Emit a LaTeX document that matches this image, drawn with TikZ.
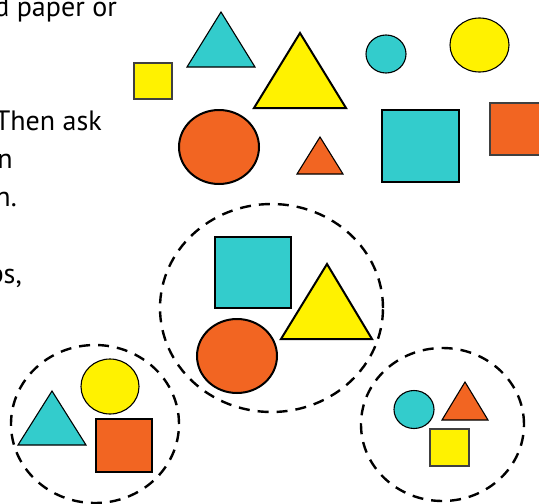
\documentclass[tikz,border=0pt]{standalone}
\usepackage{fontspec}
\setmainfont{PT Sans}
\usepackage{xcolor}
\usepackage{tikz}
\definecolor{shcyan}{HTML}{33CCCC}
\definecolor{shyellow}{HTML}{FFF200}
\definecolor{shorange}{HTML}{F26522}
\tikzset{
  shthin/.style={draw=black, line width=1.1pt, line join=miter},
  shbox/.style={draw=black!75, line width=1.2pt},
  shthick/.style={draw=black, line width=2pt, line join=miter},
  shgroup/.style={draw=black, line width=2.4pt, dash pattern=on 11pt off 8pt},
  shtext/.style={anchor=base east, inner sep=0pt, font=\fontsize{28}{33}\selectfont},
}
\begin{document}
\begin{tikzpicture}[x=1pt, y=-1pt]
\useasboundingbox (0,0) rectangle (539,504);
\clip (0,0) rectangle (539,504);
% cut-off lines of the page text
\node[shtext] (line1) at (117,16) {d paper or};
\node[shtext] (line2) at (102,130) {Then ask};
\node[shtext] (line3) at (13,168) {n};
\node[shtext] (line4) at (17,206) {n.};
\node[shtext] (line5) at (22,283) {ps,};
% loose shapes
\draw[shbox, fill=shyellow] (134,63) rectangle (172,99);
\draw[shthin, fill=shcyan] (187,67) -- (221,12) -- (255,67) -- cycle;
\draw[shthick, fill=shyellow] (254,108) -- (300,33) -- (346,108) -- cycle;
\draw[shthin, fill=shcyan] (386,54) ellipse [x radius=20pt, y radius=19pt];
\draw[shthin, fill=shyellow] (479.5,45) ellipse [x radius=29.5pt, y radius=27pt];
\draw[shthick, fill=shorange] (219,147) ellipse [x radius=40pt, y radius=37pt];
\draw[shthin, fill=shorange] (297,174) -- (320,137) -- (343,174) -- cycle;
\draw[shthick, fill=shcyan] (382,110) rectangle (459,182);
\draw[shbox, fill=shorange] (490,103) rectangle (545,155);
% sorted groups
\draw[shgroup] (271.5,308) ellipse [x radius=111.5pt, y radius=104pt];
\draw[shgroup] (95,424) ellipse [x radius=84pt, y radius=79pt];
\draw[shgroup] (442.5,424.5) ellipse [x radius=81.5pt, y radius=76.5pt];
\draw[shthick, fill=shcyan] (215,237) rectangle (291,308);
\draw[shthick, fill=shyellow] (281,339) -- (327,264) -- (372,339) -- cycle;
\draw[shthick, fill=shorange] (237,356) ellipse [x radius=40pt, y radius=37pt];
\draw[shthin, fill=shyellow] (110,386.5) ellipse [x radius=29pt, y radius=27.5pt];
\draw[shthin, fill=shcyan] (18,445) -- (52,391) -- (86,445) -- cycle;
\draw[shthin, fill=shorange] (96,419) rectangle (152,472);
\draw[shthin, fill=shcyan] (414,409.5) ellipse [x radius=20pt, y radius=19pt];
\draw[shthin, fill=shorange] (442,420) -- (465,382) -- (488,420) -- cycle;
\draw[shbox, fill=shyellow] (430,429) rectangle (469,466);
\end{tikzpicture}
\end{document}
